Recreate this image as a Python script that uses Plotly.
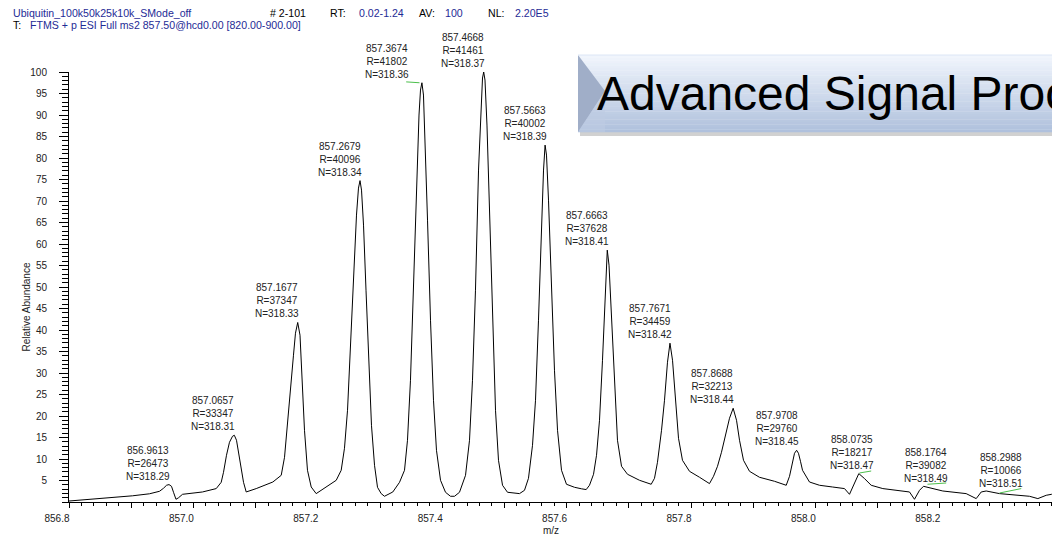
import plotly.graph_objects as go

# ---------------- data ----------------
profile_mz = [
    856.8000, 856.8490, 856.9021, 856.9294, 856.9455, 856.9519, 856.9568, 856.9608, 856.9648, 856.9680,
    856.9720, 856.9760, 856.9825, 857.0146, 857.0367, 857.0447, 857.0484, 857.0532, 857.0580, 857.0629,
    857.0658, 857.0693, 857.0725, 857.0769, 857.0806, 857.0849, 857.1010, 857.1277, 857.1412, 857.1465,
    857.1513, 857.1572, 857.1609, 857.1641, 857.1677, 857.1714, 857.1754, 857.1786, 857.1834, 857.1894,
    857.1974, 857.2135, 857.2296, 857.2376, 857.2429,
    857.2478, 857.2526, 857.2574, 857.2622, 857.2654, 857.2679, 857.2703, 857.2735, 857.2775, 857.2815,
    857.2863, 857.2912, 857.2960, 857.3019, 857.3072, 857.3206, 857.3314,
    857.3394, 857.3442, 857.3490, 857.3539, 857.3587, 857.3627, 857.3651, 857.3674, 857.3699, 857.3732,
    857.3764, 857.3812, 857.3860, 857.3908, 857.3973, 857.4053, 857.4133, 857.4198, 857.4278,
    857.4375, 857.4439, 857.4487, 857.4535, 857.4584, 857.4624, 857.4648, 857.4667, 857.4688, 857.4720,
    857.4761, 857.4809, 857.4857, 857.4905, 857.4970, 857.5050, 857.5146, 857.5243, 857.5323,
    857.5387, 857.5452, 857.5500, 857.5548, 857.5596, 857.5629, 857.5654, 857.5677, 857.5709, 857.5757,
    857.5805, 857.5854, 857.5918, 857.5998, 857.6127, 857.6240, 857.6315, 857.6368,
    857.6433, 857.6481, 857.6529, 857.6577, 857.6617, 857.6654, 857.6682, 857.6722, 857.6770, 857.6818,
    857.6883, 857.6979, 857.7172, 857.7360, 857.7413,
    857.7461, 857.7526, 857.7574, 857.7622, 857.7662, 857.7703, 857.7751, 857.7799, 857.7863, 857.7976,
    857.8137, 857.8297, 857.8362,
    857.8426, 857.8490, 857.8555, 857.8619, 857.8678, 857.8732, 857.8780, 857.8844, 857.8941, 857.9101,
    857.9342, 857.9531,
    857.9584, 857.9632, 857.9664, 857.9698, 857.9728, 857.9760, 857.9793, 857.9905, 858.0066, 858.0275,
    858.0468, 858.0548,
    858.0629, 858.0698, 858.0789, 858.0897, 858.1084, 858.1352, 858.1513, 858.1593,
    858.1674, 858.1738, 858.1887, 858.2048, 858.2424, 858.2585, 858.2666, 858.2746, 858.2960, 858.3228,
    858.3442, 858.3576, 858.3711, 858.3796, 858.4000,
]
profile_int = [
    0.23, 0.79, 1.44, 1.91, 2.49, 3.19, 3.89, 4.05, 3.65, 2.26,
    0.63, 0.98, 1.79, 2.33, 3.12, 4.58, 6.91, 10.87, 13.89, 15.29,
    15.52, 14.36, 11.57, 8.07, 4.58, 2.33, 3.12, 4.65, 6.21, 10.40,
    19.01, 27.62, 34.14, 39.26, 41.75, 38.79, 27.16, 16.68, 7.38, 3.49,
    1.95, 3.49, 5.05, 7.38, 12.50,
    21.34, 37.63, 53.92, 66.72, 73.00, 74.74, 72.53, 64.39, 49.26, 32.97,
    17.85, 8.54, 3.42, 1.95, 1.33, 2.33, 4.58,
    7.38, 14.36, 28.32, 49.26, 74.86, 89.99, 95.80, 97.50, 94.64, 81.84,
    65.55, 42.28, 23.67, 12.03, 5.05, 2.26, 1.33, 1.33, 2.26,
    6.21, 14.36, 28.32, 49.26, 77.19, 93.48, 98.60, 100.00, 98.13, 87.66,
    67.88, 42.28, 21.34, 9.70, 3.89, 2.26, 2.02, 1.95, 2.72,
    5.51, 13.19, 23.67, 42.28, 63.22, 77.19, 83.00, 80.68, 70.20, 49.26,
    30.65, 16.68, 7.38, 4.12, 3.42, 3.07, 2.89, 3.89,
    6.45, 10.87, 19.01, 32.97, 46.94, 58.57, 55.08, 42.28, 25.99, 14.36,
    8.31, 6.45, 5.05, 4.12, 5.51,
    9.24, 16.68, 23.67, 32.51, 36.93, 32.97, 23.67, 14.82, 9.70, 7.14,
    5.75, 4.28, 5.98,
    8.31, 11.57, 15.29, 19.48, 21.80, 19.01, 14.36, 9.70, 7.14, 5.75,
    4.82, 3.89,
    5.98, 9.24, 11.33, 12.03, 11.33, 9.47, 7.38, 4.65, 3.89, 3.49,
    3.12, 1.79,
    4.28, 6.61, 5.45, 3.89, 3.12, 2.56, 2.33, 0.63,
    2.72, 3.65, 3.12, 2.56, 1.95, 0.79, 2.33, 2.56, 1.95, 1.56,
    1.33, 0.79, 1.56, 1.79, 1.90,
]

peak_mz = [856.9613, 857.0657, 857.1677, 857.2679, 857.3674, 857.4668, 857.5663,
           857.6663, 857.7671, 857.8688, 857.9708, 858.0735, 858.1764, 858.2988]
peak_int = [4.05, 15.5, 41.75, 74.7, 97.5, 100.0, 83.0, 58.6, 36.9, 21.8, 12.0, 6.6, 3.6, 2.3]
peak_R = [26473, 33347, 37347, 40096, 41802, 41461, 40002, 37628, 34459, 32213, 29760, 18217, 39082, 10066]
peak_N = [318.29, 318.31, 318.33, 318.34, 318.36, 318.37, 318.39, 318.41, 318.42, 318.44, 318.45, 318.47, 318.49, 318.51]

# green noise-tag segments (m/z start, m/z end, intensity start, intensity end)
tag_mz0 = [857.3421, 858.0709, 858.1802, 858.2960]
tag_mz1 = [857.3635, 858.0897, 858.2103, 858.3309]
tag_i0 = [97.7, 6.75, 4.12, 2.09]
tag_i1 = [97.5, 7.21, 4.42, 3.12]

x_tick_vals = [856.8, 856.9, 857.0, 857.1, 857.2, 857.3, 857.4, 857.5, 857.6, 857.7, 857.8, 857.9, 858.0, 858.1, 858.2, 858.3]
x_tick_text = ["856.8", "", "857.0", "", "857.2", "", "857.4", "", "857.6", "", "857.8", "", "858.0", "", "858.2", ""]
y_tick_vals = [5, 10, 15, 20, 25, 30, 35, 40, 45, 50, 55, 60, 65, 70, 75, 80, 85, 90, 95, 100]

header_line1 = [("Ubiquitin_100k50k25k10k_SMode_off", "blue"), ("# 2-101", "black"), ("RT:", "black"),
                ("0.02-1.24", "blue"), ("AV:", "black"), ("100", "blue"), ("NL:", "black"), ("2.20E5", "blue")]
header_line2 = [("T:", "black"), ("FTMS + p ESI Full ms2 857.50@hcd0.00 [820.00-900.00]", "blue")]
banner_text = "Advanced Signal Processing"

# ---------------- layout / styling ----------------
W, H = 1052, 535
L, T, B = 69, 72, 33
PW, PH = W - L, H - T - B
FONT = "Liberation Sans, Arial, sans-serif"
BLUE = "#1e2b96"
TXT = "#222222"

# layout positions for decorations (pixels)
label_dx = [-21, -21, -21, -20, -35, -21, -21, -21, -21, -22, -20, -9, 1, 0]
head1_x = [12, 269, 329, 358, 418, 444, 487, 514]
head2_x = [12, 29]


def pxx(x):
    return (x - L) / PW


def pxy(y):
    return (T + PH - y) / PH


fig = go.Figure()
fig.add_trace(go.Scatter(x=profile_mz, y=profile_int, mode="lines",
                         line=dict(color="black", width=1), hoverinfo="skip", showlegend=False))

gx, gy = [], []
for a, b, c, d in zip(tag_mz0, tag_mz1, tag_i0, tag_i1):
    gx += [a, b, None]
    gy += [c, d, None]
fig.add_trace(go.Scatter(x=gx, y=gy, mode="lines", line=dict(color="#4cbf4c", width=1),
                         hoverinfo="skip", showlegend=False))

annotations = []
for mz, it, r, n, dx in zip(peak_mz, peak_int, peak_R, peak_N, label_dx):
    annotations.append(dict(x=mz, y=it, xref="x", yref="y", showarrow=False,
                            text=f"{mz:.4f}<br>R={r}<br>N={n:.2f}", align="center",
                            xanchor="center", yanchor="bottom", xshift=dx, yshift=1,
                            font=dict(family=FONT, size=10, color=TXT)))

for (t, c), x in zip(header_line1, head1_x):
    annotations.append(dict(x=pxx(x), y=pxy(12.5), xref="paper", yref="paper", showarrow=False,
                            text=t, xanchor="left", yanchor="middle", borderpad=0,
                            font=dict(family=FONT, size=10.6, color=BLUE if c == "blue" else "black")))
for (t, c), x in zip(header_line2, head2_x):
    annotations.append(dict(x=pxx(x), y=pxy(25), xref="paper", yref="paper", showarrow=False,
                            text=t, xanchor="left", yanchor="middle", borderpad=0,
                            font=dict(family=FONT, size=10.6, color=BLUE if c == "blue" else "black")))

annotations.append(dict(x=pxx(25.5), y=pxy(307), xref="paper", yref="paper", showarrow=False,
                        text="Relative Abundance", textangle=-90, xanchor="center", yanchor="middle",
                        font=dict(family=FONT, size=10, color=TXT)))
annotations.append(dict(x=pxx(551), y=pxy(530), xref="paper", yref="paper", showarrow=False,
                        text="m/z", xanchor="center", yanchor="middle",
                        font=dict(family=FONT, size=10, color=TXT)))

# banner (decoration)
shapes = []
bx0, bx1, by0, by1 = 578, 1060, 55, 132
shapes.append(dict(type="rect", xref="paper", yref="paper", x0=pxx(bx0 + 2), x1=pxx(bx1), y0=pxy(by1 + 4),
                   y1=pxy(by1 - 2), fillcolor="rgba(0,0,0,0.18)", line=dict(width=0), layer="above"))
n_strips = 30
top_c = (240, 245, 252)
bot_c = (176, 193, 221)
for i in range(n_strips):
    f = i / (n_strips - 1)
    col = tuple(int(round(top_c[k] + (bot_c[k] - top_c[k]) * f)) for k in range(3))
    y0 = by0 + (by1 - by0) * i / n_strips
    y1 = by0 + (by1 - by0) * (i + 1) / n_strips
    shapes.append(dict(type="rect", xref="paper", yref="paper", x0=pxx(bx0), x1=pxx(bx1),
                       y0=pxy(y1 + 0.3), y1=pxy(y0), fillcolor="rgb(%d,%d,%d)" % col,
                       line=dict(width=0), layer="above"))
# left bevel
path = "M %f %f L %f %f L %f %f Z" % (pxx(bx0), pxy(by0), pxx(bx0 + 27), pxy(91), pxx(bx0), pxy(by1))
shapes.append(dict(type="path", xref="paper", yref="paper", path=path,
                   fillcolor="rgb(160,174,200)", line=dict(width=0), layer="above"))
path2 = "M %f %f L %f %f L %f %f Z" % (pxx(bx0), pxy(by1), pxx(bx0 + 27), pxy(91), pxx(bx0 + 27), pxy(by1))
shapes.append(dict(type="path", xref="paper", yref="paper", path=path2,
                   fillcolor="rgba(190,203,226,0.6)", line=dict(width=0), layer="above"))
shapes.append(dict(type="line", xref="paper", yref="paper", x0=pxx(bx0), x1=pxx(bx1), y0=pxy(by0),
                   y1=pxy(by0), line=dict(color="rgb(220,230,245)", width=1), layer="above"))

annotations.append(dict(x=pxx(596), y=pxy(93), xref="paper", yref="paper", showarrow=False,
                        text=banner_text, xanchor="left", yanchor="middle", borderpad=0,
                        font=dict(family=FONT, size=48, color="black")))

fig.update_layout(
    width=W, height=H, margin=dict(l=L, r=0, t=T, b=B, pad=0),
    paper_bgcolor="white", plot_bgcolor="white",
    font=dict(family=FONT, size=10, color=TXT),
    annotations=annotations, shapes=shapes, showlegend=False,
    xaxis=dict(range=[856.8, 856.8 + PW / 622.0], showgrid=False, zeroline=False,
               showline=True, linecolor="black", linewidth=1,
               tickmode="array", tickvals=x_tick_vals, ticktext=x_tick_text,
               ticks="outside", ticklen=5, tickcolor="black", tickwidth=1,
               ticklabelshift=-12, ticklabelstandoff=2,
               minor=dict(tickmode="linear", tick0=856.8, dtick=0.02, ticks="outside",
                          ticklen=3, tickcolor="black", tickwidth=1, showgrid=False),
               tickfont=dict(family=FONT, size=10, color=TXT)),
    yaxis=dict(range=[0, 100], showgrid=False, zeroline=False,
               showline=True, linecolor="black", linewidth=1,
               tickmode="array", tickvals=y_tick_vals,
               ticks="outside", ticklen=9, tickcolor="black", tickwidth=1,
               ticklabelstandoff=10,
               minor=dict(tickmode="linear", tick0=0, dtick=1, ticks="outside",
                          ticklen=6, tickcolor="black", tickwidth=1, showgrid=False),
               tickfont=dict(family=FONT, size=10, color=TXT)),
)

fig.write_html("out.html", config={"displayModeBar": False},
               post_script="document.body.style.margin='0';")
